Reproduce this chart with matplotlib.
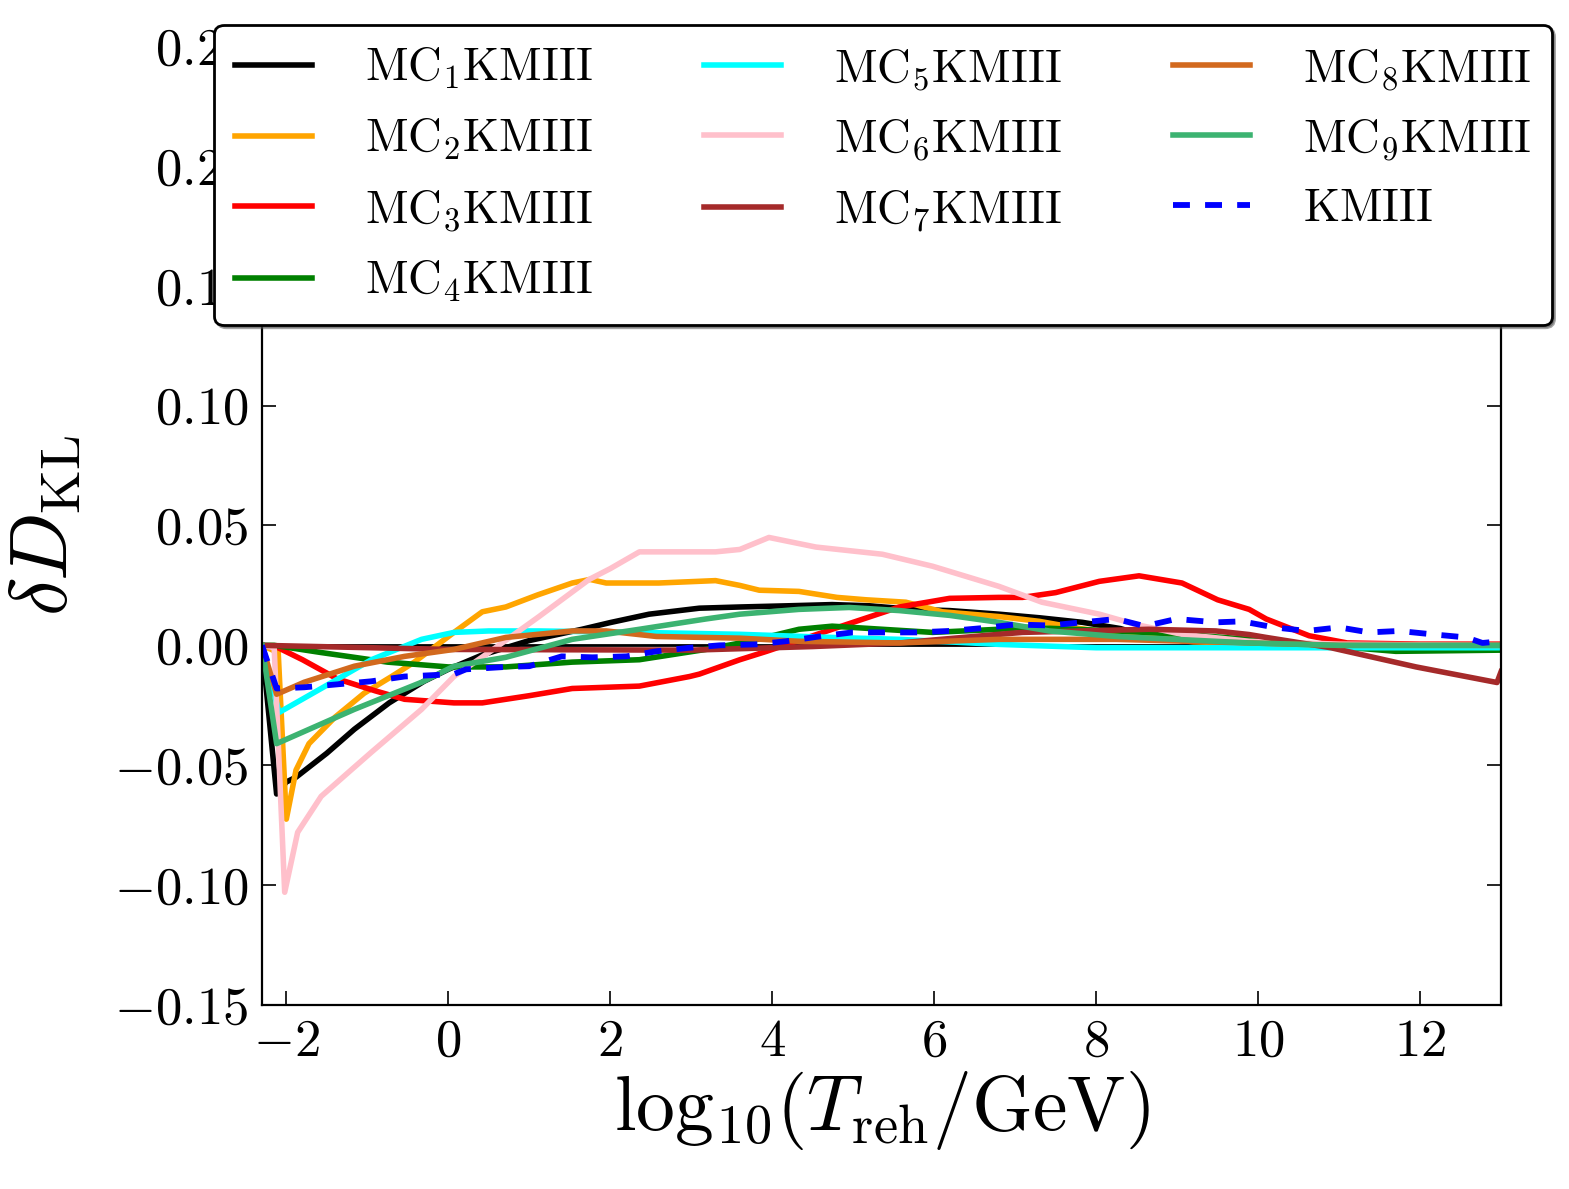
import numpy as np
import matplotlib
matplotlib.use("Agg")
import matplotlib.pyplot as plt

plt.rcParams['font.family'] = 'serif'
plt.rcParams['font.serif'] = ['cmr10']
plt.rcParams['mathtext.fontset'] = 'cm'
plt.rcParams['axes.formatter.use_mathtext'] = True
plt.rcParams['axes.unicode_minus'] = True

x_mc1 = [-2.3, -2.12, -2.0, -1.88, -1.5, -1.16, -0.73, -0.3, 0.0, 0.42, 1.0, 1.65, 2.0, 2.48, 3.1, 3.6, 4.2, 4.74, 5.2, 5.73, 6.19, 6.8, 7.3, 7.83, 8.3, 8.65, 9.2, 9.8, 10.5, 13]
y_mc1 = [0, -0.062, -0.057, -0.055, -0.045, -0.035, -0.024, -0.015, -0.010, -0.004, 0.002, 0.0067, 0.0095, 0.013, 0.0155, 0.016, 0.0165, 0.017, 0.0165, 0.015, 0.0145, 0.013, 0.0115, 0.0096, 0.007, 0.0035, 0.0015, 0.0005, 0.0, 0.0]

x_mc2 = [-2.3, -2.1, -2.0, -1.88, -1.72, -1.4, -1.04, -0.7, -0.42, 0.07, 0.42, 0.71, 1.1, 1.53, 1.75, 1.95, 2.6, 3.3, 3.6, 3.84, 4.33, 4.8, 5.16, 5.65, 6.1, 6.8, 7.3, 7.8, 8.5, 9.2, 10, 13]
y_mc2 = [0, -0.003, -0.0725, -0.052, -0.041, -0.030, -0.020, -0.013, -0.007, 0.0054, 0.014, 0.016, 0.021, 0.026, 0.0275, 0.026, 0.026, 0.027, 0.025, 0.023, 0.0225, 0.020, 0.019, 0.018, 0.014, 0.012, 0.010, 0.007, 0.004, 0.0015, 0.0005, 0.0]

x_mc3 = [-2.3, -2.1, -1.8, -1.37, -0.9, -0.54, 0.07, 0.42, 1.0, 1.53, 2.36, 2.98, 3.1, 3.6, 3.93, 4.74, 5.57, 6.19, 6.8, 7.09, 7.5, 8.04, 8.53, 9.06, 9.5, 9.89, 10.1, 10.63, 11.1, 12, 13]
y_mc3 = [0, -0.001, -0.006, -0.014, -0.019, -0.0225, -0.024, -0.024, -0.021, -0.018, -0.017, -0.013, -0.012, -0.006, -0.0025, 0.0067, 0.016, 0.0196, 0.020, 0.020, 0.022, 0.0267, 0.029, 0.026, 0.019, 0.015, 0.011, 0.004, 0.001, 0.0005, 0.0005]

x_mc4 = [-2.3, -2.15, -1.57, -0.75, 0.0, 0.71, 1.53, 2.36, 3.18, 3.72, 4.33, 4.74, 5.36, 5.98, 6.8, 7.13, 8.25, 9.06, 9.89, 10.8, 11.7, 13]
y_mc4 = [0, 0, -0.003, -0.007, -0.009, -0.009, -0.007, -0.006, -0.0017, 0.0017, 0.0067, 0.008, 0.0067, 0.0054, 0.0067, 0.0075, 0.006, 0.0046, 0.0025, 0.0, -0.0025, -0.002]

x_mc5 = [-2.3, -2.09, -1.57, -0.95, -0.33, 0.07, 0.5, 1.12, 2.36, 3.6, 4.74, 5.57, 6.8, 8, 10, 13]
y_mc5 = [0, -0.028, -0.018, -0.006, 0.0025, 0.0054, 0.006, 0.006, 0.0054, 0.0046, 0.0033, 0.0025, 0.0004, -0.001, -0.001, -0.001]

x_mc6 = [-2.3, -2.15, -2.02, -1.86, -1.57, -1.2, -0.95, -0.33, 0.07, 0.5, 1.12, 1.74, 2.0, 2.36, 3.3, 3.6, 3.96, 4.54, 5.36, 5.98, 6.8, 7.33, 8.04, 8.49, 9.06, 9.89, 11, 13]
y_mc6 = [0, -0.001, -0.103, -0.078, -0.063, -0.052, -0.0446, -0.0267, -0.013, -0.003, 0.012, 0.0275, 0.032, 0.039, 0.039, 0.040, 0.045, 0.041, 0.038, 0.033, 0.0246, 0.018, 0.013, 0.0087, 0.0046, 0.0017, 0.0005, 0.0]

x_mc7 = [-2.3, 0, 3.0, 4.5, 5.57, 6.8, 7.09, 8.65, 9.48, 9.89, 10.1, 10.9, 11.95, 12.95, 13.0]
y_mc7 = [0, -0.0017, -0.002, -0.0005, 0.001, 0.0046, 0.0054, 0.0067, 0.006, 0.0045, 0.0033, -0.001, -0.009, -0.0155, -0.011]

x_mc8 = [-2.3, -2.12, -1.78, -1.16, -0.54, 0.07, 0.71, 1.53, 1.95, 2.57, 3.6, 4.33, 5.57, 6.8, 8.25, 9.89, 11, 13]
y_mc8 = [0, -0.0204, -0.0154, -0.0087, -0.0046, -0.0017, 0.0033, 0.006, 0.006, 0.0037, 0.003, 0.0017, 0.001, 0.0025, 0.0025, 0.001, 0.0, 0.0]

x_mc9 = [-2.3, -2.12, -1.16, -0.33, 0.07, 0.71, 1.53, 2.36, 3.18, 3.6, 4.33, 4.95, 5.57, 6.19, 6.8, 7.42, 8.25, 9.89, 11, 13]
y_mc9 = [0, -0.041, -0.0267, -0.0154, -0.0087, -0.005, 0.0025, 0.0067, 0.011, 0.013, 0.015, 0.0158, 0.0145, 0.0125, 0.0096, 0.006, 0.0037, 0.001, 0.0, 0.0]

x_km = [-2.3, -2.12, -1.78, -0.95, -0.54, 0.07, 0.22, 0.71, 1.0, 1.4, 1.78, 2.2, 2.57, 2.98, 3.35, 3.8, 4.17, 4.58, 4.99, 5.4, 5.78, 6.19, 6.6, 7.0, 7.42, 7.83, 8.25, 8.6, 8.99, 9.48, 9.8, 10.2, 10.6, 11.0, 11.37, 11.74, 12.15, 12.57, 12.77, 13]
y_km = [0, -0.018, -0.0175, -0.015, -0.013, -0.012, -0.010, -0.009, -0.0087, -0.0046, -0.005, -0.0046, -0.0025, -0.001, 0.0, 0.0004, 0.0017, 0.0037, 0.0054, 0.0054, 0.0054, 0.006, 0.0072, 0.0087, 0.0083, 0.0096, 0.011, 0.008, 0.011, 0.0096, 0.010, 0.0075, 0.006, 0.0075, 0.0054, 0.006, 0.0046, 0.0033, 0.001, 0.0017]

labels = [r'$\mathrm{MC_%dKMIII}$' % i for i in range(1, 10)] + [r'$\mathrm{KMIII}$']
colors = ['black', 'orange', 'red', 'green', 'cyan', 'pink', 'brown', 'chocolate', 'mediumseagreen']
xs = [x_mc1, x_mc2, x_mc3, x_mc4, x_mc5, x_mc6, x_mc7, x_mc8, x_mc9]
ys = [y_mc1, y_mc2, y_mc3, y_mc4, y_mc5, y_mc6, y_mc7, y_mc8, y_mc9]

fig = plt.figure(figsize=(15.69, 11.89), dpi=100)
ax = fig.add_axes([0.167, 0.1548, 0.7897, 0.8065])

ax.axhline(0, color='black', lw=2)
for x, y, c, lab in zip(xs, ys, colors, labels):
    ax.plot(x, y, color=c, lw=4, label=lab)
ax.plot(x_km, y_km, color='blue', lw=4.2, dashes=(2.9, 2.6), label=labels[-1])

ax.set_xlim(-2.3, 13)
ax.set_ylim(-0.15, 0.25)
ax.set_xticks([-2, 0, 2, 4, 6, 8, 10, 12])
ax.set_yticks(np.arange(-0.15, 0.251, 0.05))
ax.tick_params(direction='in', top=True, right=True, length=10, width=1.2,
               labelsize=38, pad=10)
for s in ax.spines.values():
    s.set_linewidth(1.6)

ax.set_xlabel(r'$\mathrm{log}_{10}(T_{\rm reh}/{\rm GeV})$', fontsize=56, labelpad=2)
ax.set_ylabel(r'$\delta D_{\rm KL}$', fontsize=58, labelpad=22)

leg = ax.legend(ncol=3, loc='upper center', bbox_to_anchor=(0.5628, 0.979),
                bbox_transform=fig.transFigure, fontsize=33.5, shadow=True,
                fancybox=True, handlelength=1.65, handletextpad=1.14,
                columnspacing=2.4, labelspacing=0.56, borderpad=0.45,
                borderaxespad=0)
leg.get_frame().set_edgecolor('black')
leg.get_frame().set_linewidth(2)

fig.savefig('out.png', dpi=100)
